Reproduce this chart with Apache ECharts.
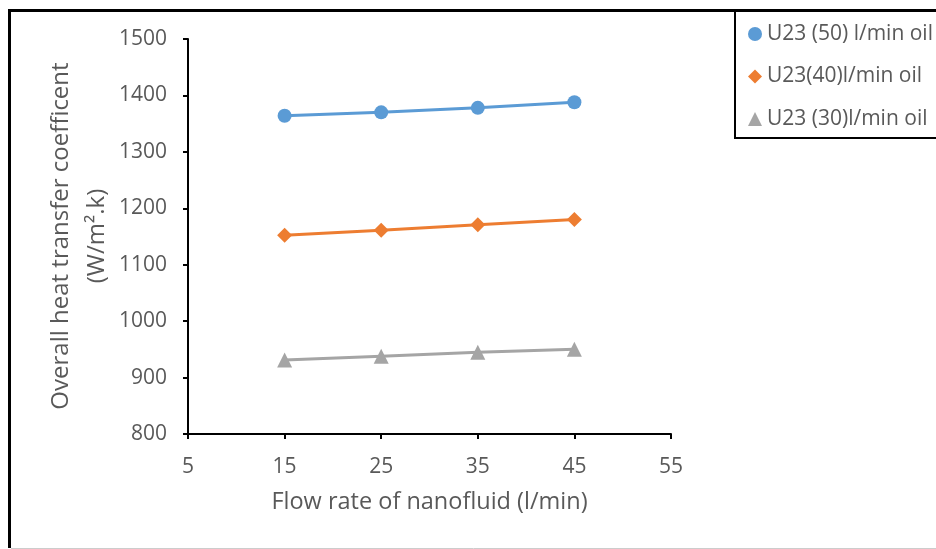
<!DOCTYPE html>
<html>
<head>
<meta charset="utf-8">
<script src="https://cdn.jsdelivr.net/npm/echarts@6/dist/echarts.min.js"></script>
<style>
html,body{margin:0;padding:0;background:#fff;}
#chart{width:936px;height:549px;}
</style>
</head>
<body>
<div id="chart"></div>
<script>
var flowRates = [15, 25, 35, 45];
var u50 = [1364, 1370, 1378, 1388];
var u40 = [1152, 1161, 1171, 1180];
var u30 = [931, 938, 945, 950];
var seriesNames = ['U23 (50) l/min oil', 'U23(40)l/min oil', 'U23 (30)l/min oil'];
var xTicks = {min: 5, max: 55, interval: 10};
var yTicks = {min: 800, max: 1500, interval: 100};
var yTitle = 'Overall heat transfer coefficent\n(W/m².k)';
var xTitle = 'Flow rate of nanofluid (l/min)';

function pairs(vals){ return flowRates.map(function(x,i){ return [x, vals[i]]; }); }

var font = '"Open Sans", sans-serif';
var chart = echarts.init(document.getElementById('chart'));
chart.setOption({
  animation: false,
  backgroundColor: '#fff',
  grid: {left: 188, right: 265, top: 39, bottom: 115},
  legend: {
    orient: 'vertical', left: 743, top: 18,
    itemWidth: 14, itemHeight: 14, itemGap: 20.5,
    textStyle: {fontFamily: font, fontSize: 21, color: '#595959', lineHeight: 22},
    data: [
      {name: seriesNames[0], icon: 'circle'},
      {name: seriesNames[1], icon: 'diamond'},
      {name: seriesNames[2], icon: 'triangle'}
    ]
  },
  xAxis: {
    type: 'value', min: xTicks.min, max: xTicks.max, interval: xTicks.interval,
    name: xTitle, nameLocation: 'middle', nameGap: 56,
    nameTextStyle: {fontFamily: font, fontSize: 23.5, color: '#595959'},
    axisLine: {onZero: false, lineStyle: {color: '#000', width: 2}},
    axisTick: {show: true, length: 5, lineStyle: {color: '#000', width: 2}},
    axisLabel: {fontFamily: font, fontSize: 21, color: '#595959', margin: 23},
    splitLine: {show: false}
  },
  yAxis: {
    type: 'value', min: yTicks.min, max: yTicks.max, interval: yTicks.interval,
    axisLine: {show: true, lineStyle: {color: '#000', width: 2}},
    axisTick: {show: true, length: 5, lineStyle: {color: '#000', width: 2}},
    axisLabel: {fontFamily: font, fontSize: 21, color: '#595959', margin: 21,
      formatter: function(v){ return String(v); }},
    splitLine: {show: false}
  },
  series: [
    {name: seriesNames[0], type: 'line', data: pairs(u50), symbol: 'circle', symbolSize: 14,
     itemStyle: {color: '#5B9BD5'}, lineStyle: {color: '#5B9BD5', width: 3}},
    {name: seriesNames[1], type: 'line', data: pairs(u40), symbol: 'diamond', symbolSize: 15,
     itemStyle: {color: '#ED7D31'}, lineStyle: {color: '#ED7D31', width: 3}},
    {name: seriesNames[2], type: 'line', data: pairs(u30), symbol: 'triangle', symbolSize: 15,
     itemStyle: {color: '#A5A5A5'}, lineStyle: {color: '#A5A5A5', width: 3}}
  ],
  graphic: [
    {type: 'line', shape: {x1: 8, y1: 10.5, x2: 936, y2: 10.5}, style: {stroke: '#000', lineWidth: 3}},
    {type: 'line', shape: {x1: 9.5, y1: 9, x2: 9.5, y2: 548}, style: {stroke: '#000', lineWidth: 3}},
    {type: 'line', shape: {x1: 11, y1: 548.5, x2: 936, y2: 548.5}, style: {stroke: '#ccc', lineWidth: 1}},
    {type: 'rect', shape: {x: 735, y: 11, width: 220, height: 127}, style: {stroke: '#000', lineWidth: 2, fill: 'none'}},
    {type: 'text', x: 79, y: 236, rotation: Math.PI / 2,
     style: {text: yTitle, font: '24px "Open Sans", sans-serif', fill: '#595959',
       align: 'center', verticalAlign: 'middle', lineHeight: 36}}
  ]
});
</script>
</body>
</html>
